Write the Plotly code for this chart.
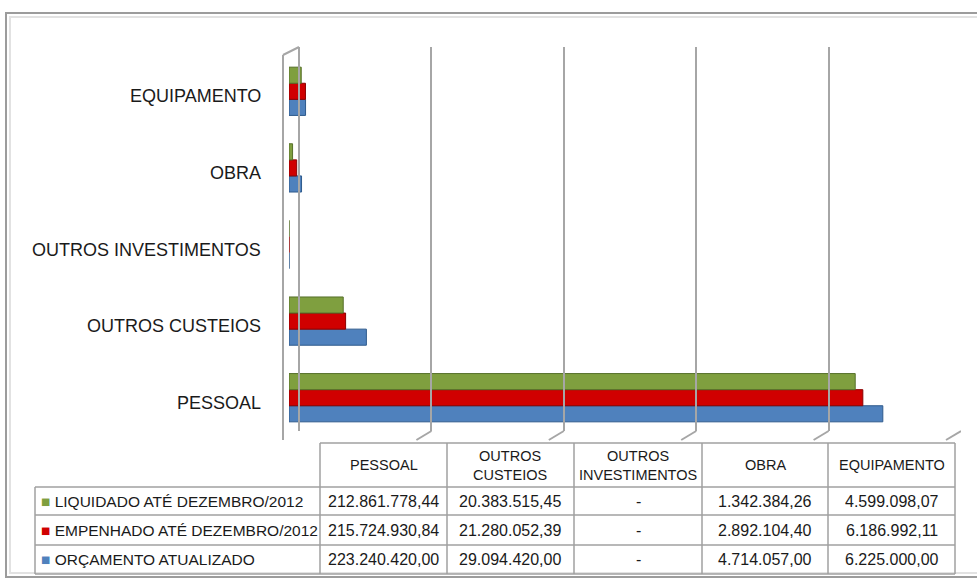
import plotly.graph_objects as go

# ---------------- data ----------------
categories = ["PESSOAL", "OUTROS CUSTEIOS", "OUTROS INVESTIMENTOS", "OBRA", "EQUIPAMENTO"]
table_headers = ["PESSOAL", "OUTROS<br>CUSTEIOS", "OUTROS<br>INVESTIMENTOS", "OBRA", "EQUIPAMENTO"]
orcamento = [223240420.00, 29094420.00, 0.0, 4714057.00, 6225000.00]
empenhado = [215724930.84, 21280052.39, 0.0, 2892104.40, 6186992.11]
liquidado = [212861778.44, 20383515.45, 0.0, 1342384.26, 4599098.07]
series_names = ["ORÇAMENTO ATUALIZADO", "EMPENHADO ATÉ DEZEMBRO/2012", "LIQUIDADO ATÉ DEZEMBRO/2012"]
grid_ticks = [0, 50e6, 100e6, 150e6, 200e6, 250e6]

# ---------------- style ----------------
W, H = 977, 581
colors = ["#4F81BD", "#D00000", "#7F9F3F"]
edge_colors = ["#2E5A8C", "#8B0000", "#56702A"]
FONT = "Liberation Sans"
TXT = "#1a1a1a"
GRID = "#A6A6A6"


def px(x):
    return x / W


def py(y):
    return 1 - y / H


def fmt(v):
    if v == 0:
        return "-"
    s = f"{v:,.2f}"
    return s.replace(",", "X").replace(".", ",").replace("X", ".")


fig = go.Figure()
series = [orcamento, empenhado, liquidado]
for name, vals, c, ec in zip(series_names, series, colors, edge_colors):
    fig.add_trace(go.Bar(
        y=categories, x=vals, name=name, orientation="h",
        marker=dict(color=c, line=dict(color=ec, width=1)),
        showlegend=False, hoverinfo="x+name",
    ))

# invisible trace carrying the back-wall gridline axis
fig.add_trace(go.Scatter(x=[None], y=[None], xaxis="x2", yaxis="y2",
                         showlegend=False, hoverinfo="skip"))

shapes = []
# outer frame
shapes.append(dict(type="rect", xref="paper", yref="paper",
                   x0=px(6), x1=px(985), y0=py(577), y1=py(13),
                   line=dict(color="#9C9C9C", width=2), fillcolor="white", layer="below"))
shapes.append(dict(type="rect", xref="paper", yref="paper",
                   x0=px(10), x1=px(985), y0=py(573), y1=py(17),
                   line=dict(color="#E2E2E2", width=2), layer="below"))

grid_bottom = 431
grid_top = 47
# gridline feet (3D floor)
for t in grid_ticks[1:]:
    shapes.append(dict(type="line", xref="x2", yref="paper",
                       xsizemode="pixel", xanchor=t, x0=0, x1=-15,
                       ysizemode="pixel", yanchor=py(grid_bottom), y0=0, y1=-9,
                       line=dict(color=GRID, width=2)))
# left wall
shapes.append(dict(type="line", xref="paper", yref="paper",
                   x0=px(283), x1=px(283), y0=py(55), y1=py(440),
                   line=dict(color=GRID, width=2)))
shapes.append(dict(type="line", xref="paper", yref="paper",
                   x0=px(283), x1=px(299), y0=py(55), y1=py(47),
                   line=dict(color=GRID, width=2)))
shapes.append(dict(type="line", xref="paper", yref="paper",
                   x0=px(299), x1=px(299), y0=py(47), y1=py(grid_bottom),
                   line=dict(color=GRID, width=2)))

# ---------------- table ----------------
col_x = [35, 320, 447, 574, 702, 828, 955]
row_y = [443, 487, 515, 545, 574]
TBL = "#A0A0A0"
shapes.append(dict(type="line", xref="paper", yref="paper",
                   x0=px(col_x[1]), x1=px(col_x[-1]), y0=py(row_y[0]), y1=py(row_y[0]),
                   line=dict(color=TBL, width=1.5)))
for r in row_y[1:]:
    shapes.append(dict(type="line", xref="paper", yref="paper",
                       x0=px(col_x[0]), x1=px(col_x[-1]), y0=py(r), y1=py(r),
                       line=dict(color=TBL, width=1.5)))
shapes.append(dict(type="line", xref="paper", yref="paper",
                   x0=px(col_x[0]), x1=px(col_x[0]), y0=py(row_y[1]), y1=py(row_y[-1]),
                   line=dict(color=TBL, width=1.5)))
for cx in col_x[1:]:
    shapes.append(dict(type="line", xref="paper", yref="paper",
                       x0=px(cx), x1=px(cx), y0=py(row_y[0]), y1=py(row_y[-1]),
                       line=dict(color=TBL, width=1.5)))

annotations = []
# category labels
for cat in categories:
    annotations.append(dict(x=px(263), xref="paper", y=cat, yref="y", yshift=-5,
                            text=cat, showarrow=False, xanchor="right", yanchor="middle",
                            font=dict(family=FONT, size=18, color=TXT)))
# table header
for i, h in enumerate(table_headers):
    cxm = (col_x[i + 1] + col_x[i + 2]) / 2
    annotations.append(dict(x=px(cxm), y=py((row_y[0] + row_y[1]) / 2), xref="paper", yref="paper",
                            text=h, showarrow=False, xanchor="center", yanchor="middle",
                            font=dict(family=FONT, size=14.5, color=TXT)))
# table rows (top: liquidado, empenhado, orcamento)
row_series = [2, 1, 0]
for ri, si in enumerate(row_series):
    ym = (row_y[ri + 1] + row_y[ri + 2]) / 2
    annotations.append(dict(x=px(39), y=py(ym), xref="paper", yref="paper",
                            text=f'<span style="color:{colors[si]}">■</span> {series_names[si]}',
                            showarrow=False, xanchor="left", yanchor="middle",
                            font=dict(family=FONT, size=15.5, color=TXT)))
    for ci, v in enumerate(series[si]):
        cxm = (col_x[ci + 1] + col_x[ci + 2]) / 2
        annotations.append(dict(x=px(cxm), y=py(ym), xref="paper", yref="paper",
                                text=fmt(v), showarrow=False, xanchor="center", yanchor="middle",
                                font=dict(family=FONT, size=16, color=TXT)))

fig.update_layout(
    width=W, height=H,
    margin=dict(l=0, r=0, t=0, b=0),
    paper_bgcolor="white", plot_bgcolor="rgba(0,0,0,0)",
    barmode="group", bargap=0.37, bargroupgap=0.0,
    xaxis=dict(domain=[px(289), px(954)], range=[0, 250e6], visible=False, anchor="y"),
    yaxis=dict(domain=[py(436), py(53)], range=[-0.5, 4.5], visible=False,
               categoryorder="array", categoryarray=categories, anchor="x"),
    xaxis2=dict(domain=[px(299), px(961)], range=[0, 250e6], anchor="y2",
                showgrid=True, gridcolor=GRID, gridwidth=2, tickvals=grid_ticks[1:],
                showticklabels=False, ticks="", zeroline=False, showline=False),
    yaxis2=dict(domain=[py(grid_bottom), py(grid_top)], range=[0, 1], visible=False, anchor="x2"),
    shapes=shapes,
    annotations=annotations,
    font=dict(family=FONT),
)

fig.write_html("out.html")
